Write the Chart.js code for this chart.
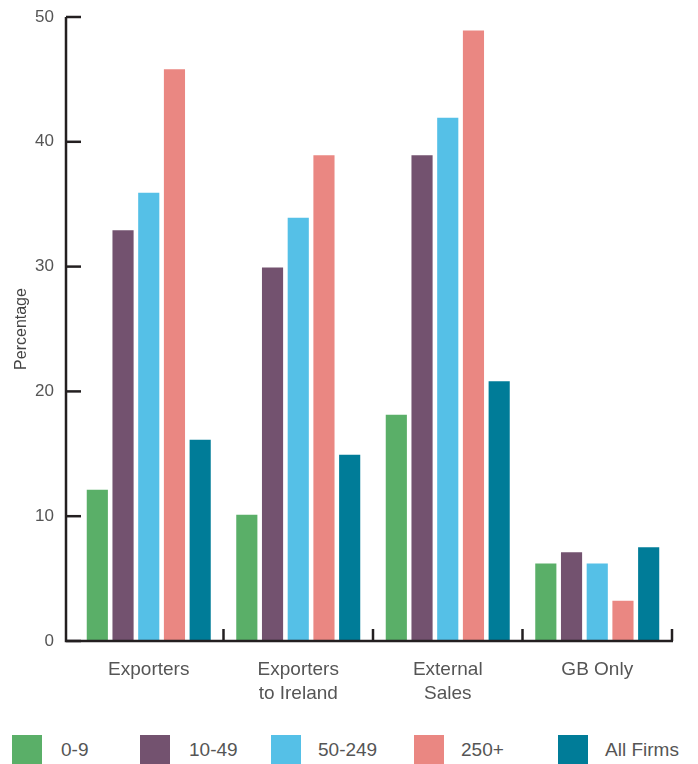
<!DOCTYPE html>
<html>
<head>
<meta charset="UTF-8">
<title>Percentage by firm size</title>
<script src="https://cdn.jsdelivr.net/npm/chart.js"></script>
<style>
  body { margin: 0; background: #fff; font-family: "Liberation Sans", Arial, sans-serif; }
  #wrap { position: relative; width: 698px; height: 764px; overflow: hidden; }
  #box { position: absolute; left: 0; top: 0; width: 698px; height: 720px; }
  #legend { position: absolute; left: 0; top: 735px; width: 698px; height: 30px; }
  .item { position: absolute; top: 0; height: 30px; }
  .sw { position: absolute; left: 0; top: 0; width: 30px; height: 30px; }
  .lb { position: absolute; top: 4px; font-size: 19px; color: #555; white-space: nowrap; }
</style>
</head>
<body>
<div id="wrap">
  <div id="box"><canvas id="myChart"></canvas></div>
  <div id="legend"></div>
</div>
<script>
var categories = [['Exporters'], ['Exporters', 'to Ireland'], ['External', 'Sales'], ['GB Only']];
var seriesNames = ['0-9', '10-49', '50-249', '250+', 'All Firms'];
var size0_9    = [12.2, 10.2, 18.2, 6.3];
var size10_49  = [33.0, 30.0, 39.0, 7.2];
var size50_249 = [36.0, 34.0, 42.0, 6.3];
var size250    = [45.9, 39.0, 49.0, 3.3];
var allFirms   = [16.2, 15.0, 20.9, 7.6];
var yTicks = [0, 10, 20, 30, 40, 50];

var colors = ['#5aaf68', '#73526f', '#55c0e7', '#ea8782', '#007c98'];
var values = [size0_9, size10_49, size50_249, size250, allFirms];

var datasets = seriesNames.map(function (n, i) {
  return {
    label: n,
    data: values[i],
    backgroundColor: colors[i],
    borderColor: 'rgba(255,255,255,0.6)',
    borderWidth: 1,
    barPercentage: 0.9,
    categoryPercentage: 0.86
  };
});

var axisColor = '#231f20';
var axisGap = 8; // axis lines sit a little left of the first category

// axis lines plus short tick marks drawn inside the plot
var axisLines = {
  id: 'axisLines',
  afterDraw: function (chart) {
    var ctx = chart.ctx, x = chart.scales.x, y = chart.scales.y;
    var x0 = x.left - axisGap;
    ctx.save();
    ctx.strokeStyle = axisColor;
    ctx.lineWidth = 2.5;
    ctx.lineCap = 'butt';
    ctx.beginPath();
    ctx.moveTo(x0, y.top);
    ctx.lineTo(x0, y.bottom);
    ctx.lineTo(x.right + 1, y.bottom);
    ctx.stroke();
    yTicks.forEach(function (v) {
      var py = y.getPixelForValue(v);
      ctx.beginPath();
      ctx.moveTo(x0, py);
      ctx.lineTo(x0 + 15, py);
      ctx.stroke();
    });
    var half = (x.getPixelForValue(1) - x.getPixelForValue(0)) / 2;
    for (var i = 0; i < categories.length; i++) {
      var px = x.getPixelForValue(i) + half;
      ctx.beginPath();
      ctx.moveTo(px, y.bottom);
      ctx.lineTo(px, y.bottom - 12);
      ctx.stroke();
    }
    ctx.restore();
  }
};

var ctx = document.getElementById('myChart').getContext('2d');
var myChart = new Chart(ctx, {
  type: 'bar',
  data: { labels: categories, datasets: datasets },
  options: {
    responsive: true,
    maintainAspectRatio: false,
    animation: false,
    layout: { padding: { top: 17, right: 26, left: 0, bottom: 0 } },
    plugins: { legend: { display: false }, tooltip: { enabled: false } },
    scales: {
      x: {
        grid: { display: false },
        border: { display: false },
        ticks: {
          color: '#555',
          padding: 9,
          maxRotation: 0,
          font: { family: 'Liberation Sans', size: 19, lineHeight: 1.263 }
        },
        afterFit: function (s) { s.height = 79; }
      },
      y: {
        min: 0,
        max: 50,
        afterBuildTicks: function (s) { s.ticks = yTicks.map(function (v) { return { value: v }; }); },
        grid: { display: false, tickLength: 12 },
        border: { display: false },
        ticks: {
          color: '#555',
          padding: 8,
          font: { family: 'Liberation Sans', size: 17, lineHeight: 1 }
        },
        title: {
          display: true,
          text: 'Percentage',
          color: '#444',
          padding: { top: 12, bottom: 0 },
          font: { family: 'Liberation Sans', size: 16 }
        },
        afterFit: function (s) { s.width = 74; }
      }
    }
  },
  plugins: [axisLines]
});

// legend laid out in fixed columns under the chart
var legendLeft = [12, 140, 271, 414, 558];
var legendGap = [49, 49, 47, 47, 47];
var lg = document.getElementById('legend');
seriesNames.forEach(function (n, i) {
  var it = document.createElement('div');
  it.className = 'item';
  it.style.left = legendLeft[i] + 'px';
  it.innerHTML = '<div class="sw" style="background:' + colors[i] + '"></div>' +
    '<div class="lb" style="left:' + legendGap[i] + 'px">' + n + '</div>';
  lg.appendChild(it);
});
</script>
</body>
</html>
